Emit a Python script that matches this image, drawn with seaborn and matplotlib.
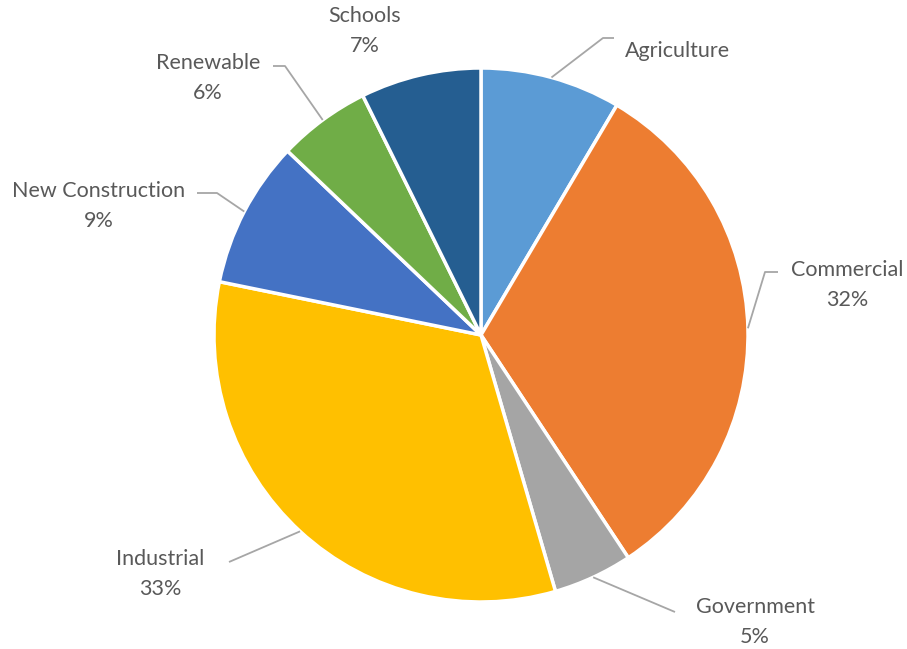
import numpy as np
import matplotlib
matplotlib.use("Agg")
import matplotlib.pyplot as plt
import seaborn as sns

categories = ["Agriculture", "Commercial", "Government", "Industrial",
              "New Construction", "Renewable", "Schools"]
values = [8.5, 32.2, 4.8, 32.7, 8.9, 5.6, 7.3]
show_pct = [False, True, True, True, True, True, True]
colors = ["#5B9BD5", "#ED7D31", "#A5A5A5", "#FFC000", "#4472C4", "#70AD47", "#255E91"]

sns.set_theme(style="white")
plt.rcParams["font.family"] = ["Lato", "DejaVu Sans"]

W, H = 907, 649
fig = plt.figure(figsize=(W / 100, H / 100), dpi=100)
ax = fig.add_axes([0, 0, 1, 1])

# layout (pixels)
cx, cy, R = 481, 335, 267

def px(x, y):
    return ((x - cx) / R, (cy - y) / R)

wedges, _ = ax.pie(values, colors=colors, startangle=90, counterclock=False,
                   wedgeprops=dict(edgecolor="white", linewidth=2.5))
ax.set_xlim(-cx / R, (W - cx) / R)
ax.set_ylim(-(H - cy) / R, cy / R)
ax.set_aspect("auto")
ax.axis("off")

total = sum(values)
# label layout: (text center, leader elbow points in px, ha)
layout = {
    "Agriculture": ((625, 51), [(603, 38), (614, 38)], "left"),
    "Commercial": ((847, 270), [(765, 272), (778, 272)], "center"),
    "Government": ((755, 607), [(675, 612)], "center"),
    "Industrial": ((160, 559), [(229, 562)], "center"),
    "New Construction": ((99, 191), [(217, 193), (197, 193)], "center"),
    "Renewable": ((208, 63), [(285, 66), (273, 66)], "center"),
    "Schools": ((365, 16), [], "center"),
}
txt_color = "#595959"
line_color = "#A6A6A6"
fs = 15.5
for w, cat, v, sp in zip(wedges, categories, values, show_pct):
    (tx, ty), pts, ha = layout[cat]
    mid = np.deg2rad((w.theta1 + w.theta2) / 2)
    if pts:
        xs = [np.cos(mid)] + [px(*p)[0] for p in pts]
        ys = [np.sin(mid)] + [px(*p)[1] for p in pts]
        ax.plot(xs, ys, color=line_color, lw=1.3, solid_capstyle="butt")
    x0, y0 = px(tx, ty)
    ax.text(x0, y0, cat, ha=ha, va="center", fontsize=fs, color=txt_color)
    if sp:
        x1, y1 = px(tx, ty + 30)
        ax.text(x1, y1, f"{round(v / total * 100):.0f}%", ha=ha, va="center",
                fontsize=fs, color=txt_color)

fig.savefig("out.png", dpi=100, facecolor="white")
